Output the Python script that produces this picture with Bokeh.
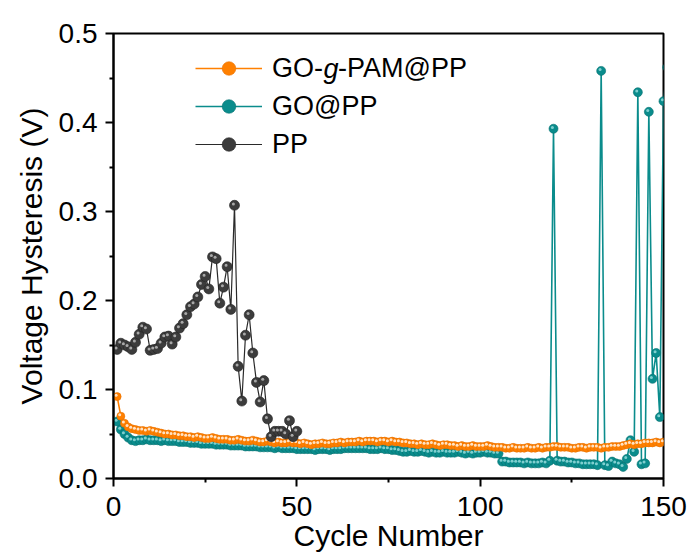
from bokeh.plotting import figure
from bokeh.models import Range1d, FixedTicker, PrintfTickFormatter, Legend, LegendItem, Label, ColumnDataSource, Dodge
from bokeh.transform import transform
from bokeh.embed import file_html
from bokeh.resources import INLINE

# ---------------- data ----------------
cycles_pam = list(range(1, 151))
v_pam = [
    0.092, 0.070, 0.062, 0.058, 0.056, 0.055, 0.054, 0.054, 0.053, 0.054,
    0.053, 0.052, 0.051, 0.050, 0.050, 0.049, 0.049, 0.048, 0.048, 0.047,
    0.047, 0.046, 0.047, 0.046, 0.045, 0.045, 0.046, 0.045, 0.044, 0.044,
    0.044, 0.043, 0.043, 0.044, 0.043, 0.042, 0.042, 0.043, 0.042, 0.041,
    0.041, 0.042, 0.041, 0.040, 0.041, 0.040, 0.040, 0.041, 0.040, 0.040,
    0.039, 0.040, 0.039, 0.038, 0.039, 0.039, 0.040, 0.039, 0.039, 0.040,
    0.040, 0.041, 0.040, 0.041, 0.041, 0.041, 0.042, 0.041, 0.042, 0.042,
    0.042, 0.041, 0.042, 0.042, 0.041, 0.042, 0.041, 0.041, 0.040, 0.040,
    0.039, 0.039, 0.038, 0.039, 0.038, 0.038, 0.039, 0.038, 0.037, 0.038,
    0.038, 0.037, 0.037, 0.036, 0.037, 0.036, 0.036, 0.037, 0.036, 0.036,
    0.036, 0.037, 0.036, 0.035, 0.035, 0.035, 0.034, 0.034, 0.035, 0.034,
    0.034, 0.034, 0.035, 0.034, 0.034, 0.035, 0.034, 0.035, 0.035, 0.036,
    0.036, 0.035, 0.035, 0.035, 0.034, 0.034, 0.035, 0.035, 0.034, 0.035,
    0.035, 0.035, 0.034, 0.035, 0.035, 0.036, 0.036, 0.036, 0.037, 0.038,
    0.039, 0.038, 0.039, 0.039, 0.040, 0.040, 0.040, 0.041, 0.040, 0.041,
]

cycles_go = list(range(1, 152))
v_go = [
    0.064, 0.055, 0.050, 0.046, 0.043, 0.042, 0.043, 0.043, 0.044, 0.043,
    0.043, 0.043, 0.042, 0.043, 0.042, 0.042, 0.042, 0.041, 0.041, 0.041,
    0.040, 0.040, 0.040, 0.039, 0.039, 0.039, 0.039, 0.038, 0.038, 0.038,
    0.038, 0.037, 0.037, 0.037, 0.037, 0.036, 0.036, 0.036, 0.036, 0.035,
    0.035, 0.035, 0.035, 0.034, 0.035, 0.034, 0.034, 0.034, 0.034, 0.033,
    0.033, 0.033, 0.033, 0.033, 0.032, 0.033, 0.033, 0.033, 0.032, 0.033,
    0.033, 0.033, 0.034, 0.034, 0.034, 0.034, 0.034, 0.034, 0.034, 0.033,
    0.033, 0.033, 0.034, 0.033, 0.033, 0.032, 0.032, 0.031, 0.030, 0.030,
    0.031, 0.030, 0.030, 0.031, 0.030, 0.029, 0.030, 0.029, 0.029, 0.030,
    0.029, 0.029, 0.029, 0.030, 0.029, 0.028, 0.029, 0.028, 0.029, 0.029,
    0.030, 0.029, 0.029, 0.028, 0.028, 0.019, 0.019, 0.018, 0.018, 0.018,
    0.018, 0.017, 0.018, 0.017, 0.017, 0.017, 0.018, 0.017, 0.020, 0.393,
    0.020, 0.019, 0.019, 0.018, 0.018, 0.017, 0.017, 0.016, 0.016, 0.016,
    0.016, 0.015, 0.458, 0.015, 0.014, 0.019, 0.017, 0.016, 0.013, 0.022,
    0.043, 0.030, 0.434, 0.016, 0.017, 0.412, 0.112, 0.141, 0.069, 0.424,
    0.462,
]

cycles_pp = list(range(1, 51))
v_pp = [
    0.145, 0.152, 0.150, 0.148, 0.145, 0.153, 0.162, 0.170, 0.168, 0.144,
    0.145, 0.146, 0.152, 0.159, 0.160, 0.151, 0.159, 0.169, 0.174, 0.184,
    0.193, 0.196, 0.204, 0.218, 0.227, 0.213, 0.249, 0.247, 0.197, 0.215,
    0.238, 0.190, 0.307, 0.126, 0.087, 0.161, 0.184, 0.141, 0.108, 0.086,
    0.110, 0.067, 0.047, 0.053, 0.053, 0.053, 0.050, 0.065, 0.047, 0.053,
]

x_ticks = [0, 50, 100, 150]
x_minor = [25, 75, 125]
y_ticks = [0.0, 0.1, 0.2, 0.3, 0.4, 0.5]
y_minor = [0.05, 0.15, 0.25, 0.35, 0.45]

labels = ["GO-\u00a0\u00a0-PAM@PP", "GO@PP", "PP"]

C_PAM = "#FF8000"
C_GO = "#0A8C8C"
C_PP = "#3C3C3C"
FONT = "Liberation Sans"

src_pam = ColumnDataSource(dict(x=cycles_pam, y=v_pam))
src_go = ColumnDataSource(dict(x=cycles_go, y=v_go))
src_pp = ColumnDataSource(dict(x=cycles_pp, y=v_pp))

# ---------------- figure ----------------
p = figure(width=693, height=559, output_backend="svg", toolbar_location=None,
           x_range=Range1d(0, 150), y_range=Range1d(0, 0.5),
           min_border_left=113, min_border_right=30,
           min_border_top=33, min_border_bottom=81)
p.xgrid.visible = False
p.ygrid.visible = False
p.outline_line_color = "black"
p.outline_line_width = 2
p.background_fill_color = "white"
p.border_fill_color = "white"

hx = transform("x", Dodge(value=-0.3))
hy = transform("y", Dodge(value=0.0015))

r_go_l = p.line("x", "y", source=src_go, line_color=C_GO, line_width=1.6)
r_go_s = p.scatter("x", "y", source=src_go, size=9, fill_color=C_GO, line_color="#067070", line_width=0.6)
p.scatter(hx, hy, source=src_go, size=3, fill_color="#7FCFCF", line_color=None)
r_pam_l = p.line("x", "y", source=src_pam, line_color=C_PAM, line_width=1.6)
r_pam_s = p.scatter("x", "y", source=src_pam, size=8, fill_color=C_PAM, line_color="#E87000", line_width=0.6)
p.scatter(hx, hy, source=src_pam, size=3, fill_color="#FFE2C4", line_color=None)
r_pp_l = p.line("x", "y", source=src_pp, line_color="#2A2A2A", line_width=1.2)
r_pp_s = p.scatter("x", "y", source=src_pp, size=10, fill_color=C_PP, line_color="#222222", line_width=0.6)
p.scatter(hx, hy, source=src_pp, size=3, fill_color="#A8A8A8", line_color=None)

for ax in (p.xaxis, p.yaxis):
    ax.axis_line_width = 2
    ax.major_tick_line_width = 2
    ax.minor_tick_line_width = 2
    ax.major_tick_out = 8
    ax.major_tick_in = 0
    ax.minor_tick_out = 4
    ax.minor_tick_in = 0
    ax.major_label_text_font = FONT
    ax.major_label_text_font_size = "28px"
    ax.major_label_text_color = "black"
    ax.axis_label_text_font = FONT
    ax.axis_label_text_font_size = "30px"
    ax.axis_label_text_font_style = "normal"
    ax.axis_label_text_color = "black"

p.xaxis.ticker = FixedTicker(ticks=x_ticks, minor_ticks=x_minor)
p.yaxis.ticker = FixedTicker(ticks=y_ticks, minor_ticks=y_minor)
p.yaxis.formatter = PrintfTickFormatter(format="%.1f")
p.xaxis.axis_label = "Cycle Number"
p.yaxis.axis_label = "Voltage Hysteresis (V)"
p.xaxis.major_label_standoff = 10
p.yaxis.major_label_standoff = 8
p.xaxis.axis_label_standoff = 0
p.yaxis.axis_label_standoff = 8

legend = Legend(items=[
    LegendItem(label=labels[0], renderers=[r_pam_l, r_pam_s]),
    LegendItem(label=labels[1], renderers=[r_go_l, r_go_s]),
    LegendItem(label=labels[2], renderers=[r_pp_l, r_pp_s]),
], location=(82, 317), orientation="vertical",
   glyph_width=67, glyph_height=34, label_height=34, spacing=4,
   label_standoff=10, padding=0, margin=0,
   border_line_color=None, background_fill_alpha=0,
   label_text_font=FONT, label_text_font_size="27px", label_text_color="black")
p.add_layout(legend)

# italic "g" inside the first legend label
p.add_layout(Label(x=82 + 67 + 10 + 51, y=427 - 17, x_units="screen", y_units="screen",
                   text="g", text_font=FONT, text_font_size="27px", text_font_style="italic",
                   text_baseline="middle", text_align="left", text_color="black"))

open("out.html", "w").write(file_html(p, INLINE))
